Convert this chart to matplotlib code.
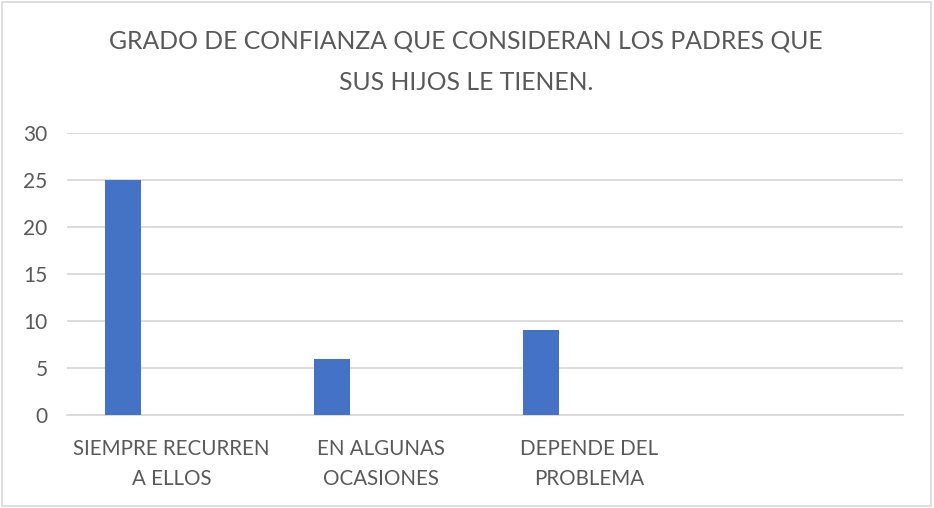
import matplotlib.pyplot as plt
import numpy as np

# Datos del gráfico
categorias = ["SIEMPRE RECURREN\nA ELLOS", "EN ALGUNAS\nOCASIONES", "DEPENDE DEL\nPROBLEMA", ""]
valores = [25, 6, 9, np.nan]
ticks_y = [0, 5, 10, 15, 20, 25, 30]
titulo = "GRADO DE CONFIANZA QUE CONSIDERAN LOS PADRES QUE\nSUS HIJOS LE TIENEN."

plt.rcParams['font.family'] = ['Lato', 'DejaVu Sans']
gris_texto = '#595959'

fig = plt.figure(figsize=(9.34, 5.08), dpi=100)
ax = fig.add_axes([67 / 934, 93 / 508, 836 / 934, 282 / 508])

x = np.arange(len(categorias))
ax.bar(x - 0.23, valores, width=0.172, color='#4472C4', zorder=3)

ax.set_xlim(-0.5, len(categorias) - 0.5)
ax.set_ylim(0, 30)
ax.set_yticks(ticks_y)
ax.set_xticks(x)
ax.set_xticklabels(categorias, fontsize=14.8, color=gris_texto, linespacing=1.62)
ax.tick_params(axis='y', labelsize=15, labelcolor=gris_texto, length=0, pad=14)
ax.tick_params(axis='x', length=0, pad=17)

ax.yaxis.grid(True, color='#d9d9d9', linewidth=1.3, zorder=0)
for lado in ['top', 'right', 'left']:
    ax.spines[lado].set_visible(False)
ax.spines['bottom'].set_color('#d9d9d9')
ax.spines['bottom'].set_linewidth(1.3)

fig.text(0.499, 1 - 62 / 508, titulo, ha='center', va='center',
         fontsize=17.8, color=gris_texto, linespacing=2.0)

# Borde exterior del gráfico
fig.patches.append(plt.Rectangle((0.002, 0.003), 0.995, 0.993, transform=fig.transFigure,
                                 fill=False, edgecolor='#d9d9d9', linewidth=1.2))

fig.savefig('out.png', dpi=100)
